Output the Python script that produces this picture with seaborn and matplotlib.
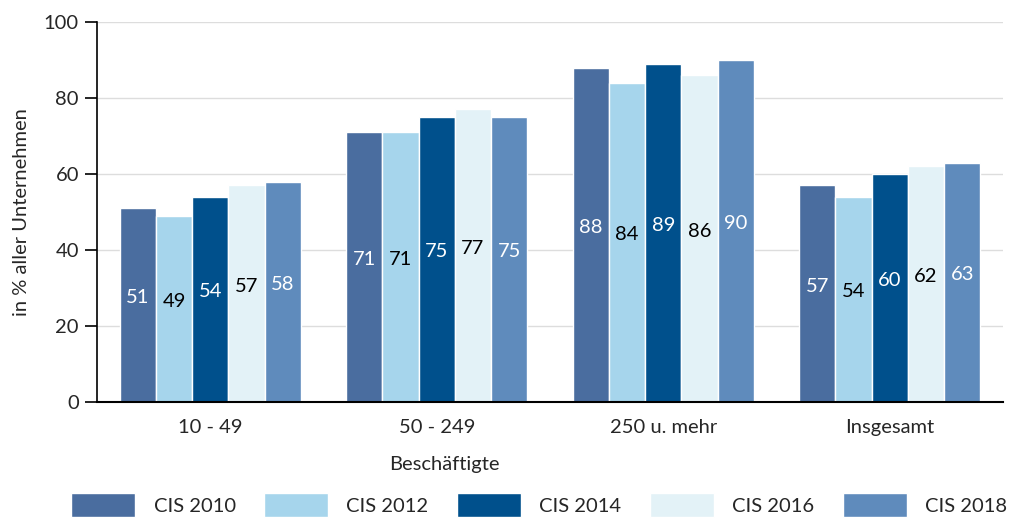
import matplotlib
matplotlib.use("Agg")
import matplotlib.pyplot as plt
import seaborn as sns
import pandas as pd

categories = ["10 - 49", "50 - 249", "250 u. mehr", "Insgesamt"]
series_names = ["CIS 2010", "CIS 2012", "CIS 2014", "CIS 2016", "CIS 2018"]
cis2010 = [51, 71, 88, 57]
cis2012 = [49, 71, 84, 54]
cis2014 = [54, 75, 89, 60]
cis2016 = [57, 77, 86, 62]
cis2018 = [58, 75, 90, 63]
series_values = [cis2010, cis2012, cis2014, cis2016, cis2018]
yticks = [0, 20, 40, 60, 80, 100]

colors = ["#4A6D9F", "#A6D5EC", "#00508C", "#E3F2F7", "#5F8BBC"]
label_colors = ["white", "black", "white", "black", "white"]

rows = []
for name, vals in zip(series_names, series_values):
    for c, v in zip(categories, vals):
        rows.append({"cat": c, "series": name, "value": v})
df = pd.DataFrame(rows)

sns.set_theme(style="white")
plt.rcParams['font.family'] = ['Lato', 'DejaVu Sans']
FS = 14.5

fig = plt.figure(figsize=(10.23, 5.19), dpi=100)
ax = fig.add_axes([0.0948, 0.2254, 0.8856, 0.7322])

sns.barplot(data=df, x="cat", y="value", hue="series", order=categories,
            hue_order=series_names, palette=colors, width=0.8, ax=ax,
            saturation=1, errorbar=None, legend=True)

for cont, lc in zip(ax.containers, label_colors):
    for bar in cont:
        h = bar.get_height()
        ax.text(bar.get_x() + bar.get_width() / 2, h / 2 + 2, f"{int(round(h))}",
                ha="center", va="center", color=lc, fontsize=FS)

ax.set_ylim(0, 100)
ax.set_xlim(-0.5, 3.5)
ax.set_yticks(yticks)
ax.yaxis.grid(True, color="#DDDDDD", linewidth=1)
ax.set_axisbelow(True)
for s in ["top", "right"]:
    ax.spines[s].set_visible(False)
ax.spines["left"].set_color("black")
ax.spines["bottom"].set_color("black")
ax.spines["left"].set_linewidth(1.2)
ax.spines["bottom"].set_linewidth(1.5)
ax.tick_params(axis="y", length=9, width=1.2, color="black", labelsize=FS, left=True, pad=4)
ax.tick_params(axis="x", length=0, labelsize=FS, pad=12)
ax.set_ylabel("in % aller Unternehmen", fontsize=FS, labelpad=10)
ax.set_xlabel("Beschäftigte", fontsize=FS, labelpad=10)
ax.xaxis.set_label_coords(0.384, -0.143)

leg = ax.legend(loc="center", bbox_to_anchor=(0.527, 0.027), bbox_transform=fig.transFigure,
                ncol=5, frameon=False, fontsize=FS, handlelength=3.2, handleheight=1.5,
                handletextpad=0.9, columnspacing=1.4, borderpad=0, borderaxespad=0)

fig.savefig("out.png", dpi=100)
